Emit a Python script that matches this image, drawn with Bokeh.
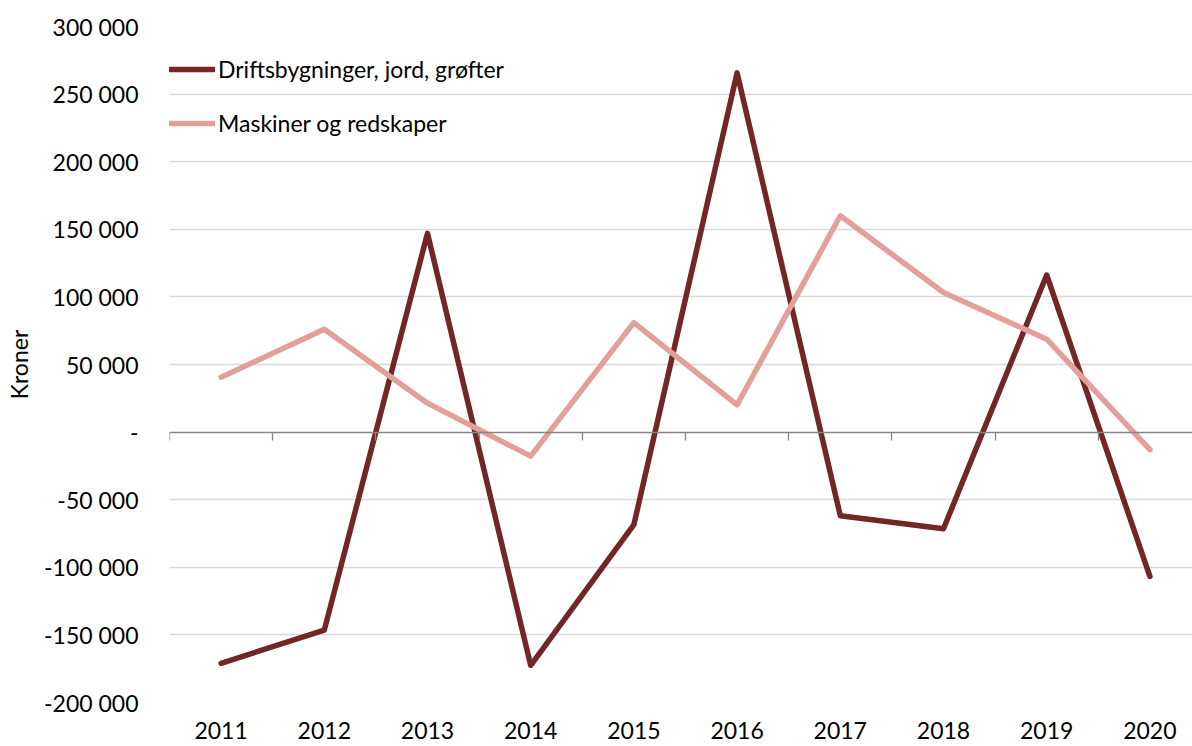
from bokeh.plotting import figure
from bokeh.models import (Range1d, FixedTicker, LinearAxis, Legend, LegendItem)
from bokeh.embed import file_html
from bokeh.resources import INLINE

# ---- data ----
years = ["2011", "2012", "2013", "2014", "2015", "2016", "2017", "2018", "2019", "2020"]
driftsbygninger = [-171000, -146500, 147000, -172500, -68500, 265700, -61800, -71500, 116200, -106700]
maskiner = [40600, 76000, 21400, -17800, 81000, 20200, 160000, 103200, 68700, -13000]
y_ticks = [-200000, -150000, -100000, -50000, 0, 50000, 100000, 150000, 200000, 250000, 300000]
y_labels = ["-200 000", "-150 000", "-100 000", "-50 000", "-", "50 000", "100 000",
            "150 000", "200 000", "250 000", "300 000"]
series_names = ["Driftsbygninger, jord, grøfter", "Maskiner og redskaper"]

DARK = "#722626"
LIGHT = "#E3A09A"
FONT = "Lato"
FS = "23px"

xs = [i + 0.5 for i in range(len(years))]
bounds = list(range(len(years) + 1))

p = figure(width=1192, height=746, output_backend="svg", toolbar_location=None,
           x_range=Range1d(0, 9.913), y_range=Range1d(y_ticks[0], y_ticks[-1]),
           min_border_left=169, min_border_right=0, min_border_top=26, min_border_bottom=44,
           x_axis_location=None, y_axis_location=None)
p.outline_line_color = None
p.background_fill_color = "white"
p.border_fill_color = "white"

# y axis (labels only)
yaxis = LinearAxis(ticker=FixedTicker(ticks=y_ticks),
                   major_label_overrides={t: l for t, l in zip(y_ticks, y_labels)})
yaxis.axis_line_color = None
yaxis.major_tick_line_color = None
yaxis.minor_tick_line_color = None
yaxis.major_label_text_font = FONT
yaxis.major_label_text_font_size = FS
yaxis.major_label_text_color = "#000000"
yaxis.major_label_standoff = 25
yaxis.axis_label = "Kroner"
yaxis.axis_label_text_font = FONT
yaxis.axis_label_text_font_size = FS
yaxis.axis_label_text_font_style = "normal"
yaxis.axis_label_text_color = "#000000"
yaxis.axis_label_standoff = 8
p.add_layout(yaxis, "left")

# zero axis line with category-boundary ticks
zaxis = LinearAxis(ticker=FixedTicker(ticks=bounds), fixed_location=0,
                   major_label_overrides={b: "" for b in bounds})
zaxis.axis_line_color = "#868686"
zaxis.axis_line_width = 1.3
zaxis.major_tick_line_color = "#868686"
zaxis.major_tick_line_width = 1.3
zaxis.major_tick_in = 0
zaxis.major_tick_out = 8
zaxis.minor_tick_line_color = None
zaxis.major_label_text_font_size = "0px"
zaxis.major_label_standoff = 0
p.add_layout(zaxis, "below")

# year labels at the bottom
xaxis = LinearAxis(ticker=FixedTicker(ticks=xs),
                   major_label_overrides={x: y for x, y in zip(xs, years)})
xaxis.axis_line_color = None
xaxis.major_tick_line_color = None
xaxis.minor_tick_line_color = None
xaxis.major_label_text_font = FONT
xaxis.major_label_text_font_size = FS
xaxis.major_label_text_color = "#000000"
xaxis.major_label_standoff = 13
p.add_layout(xaxis, "below")

# grid
p.ygrid.ticker = FixedTicker(ticks=[t for t in y_ticks if t != 0])
p.ygrid.grid_line_color = "#d9d9d9"
p.ygrid.grid_line_width = 1.5
p.xgrid.grid_line_color = None

r1 = p.line(xs, driftsbygninger, line_color=DARK, line_width=5.5, line_join="round", line_cap="round")
r2 = p.line(xs, maskiner, line_color=LIGHT, line_width=5.5, line_join="round", line_cap="round")

legend = Legend(items=[LegendItem(label=series_names[0], renderers=[r1]),
                       LegendItem(label=series_names[1], renderers=[r2])],
                location=(-5, 565))
legend.border_line_color = None
legend.background_fill_alpha = 0
legend.padding = 0
legend.margin = 0
legend.spacing = 26
legend.glyph_width = 51
legend.glyph_height = 22
legend.label_height = 22
legend.label_standoff = 3
legend.label_text_font = FONT
legend.label_text_font_size = FS
legend.label_text_color = "#000000"
p.add_layout(legend, "center")

open("out.html", "w").write(file_html(p, INLINE))
